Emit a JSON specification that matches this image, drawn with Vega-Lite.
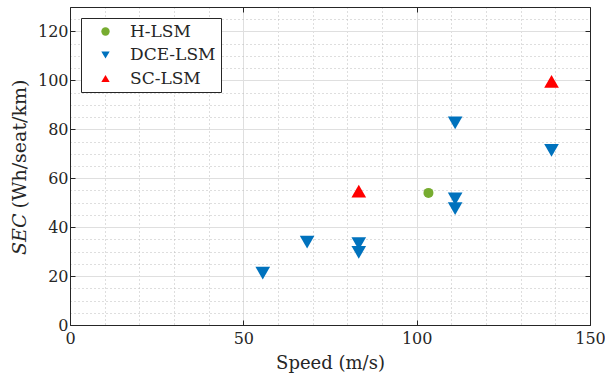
{
  "$schema": "https://vega.github.io/schema/vega-lite/v6.json",
  "width": 520,
  "height": 318,
  "autosize": "none",
  "padding": {"left": 70, "top": 7, "right": 15, "bottom": 52},
  "background": "white",
  "config": {
    "view": {"stroke": null},
    "font": "DejaVu Serif",
    "axis": {
      "labelFont": "DejaVu Serif",
      "titleFont": "DejaVu Serif",
      "labelColor": "#262626",
      "titleColor": "#262626",
      "domainColor": "#262626",
      "tickColor": "#262626",
      "labelFontSize": 16,
      "titleFontSize": 18,
      "titleFontWeight": "normal",
      "labelFlush": false,
      "tickSize": -5
    },
    "legend": {"labelFont": "DejaVu Serif"}
  },
  "data": {
    "values": [
      {"type": "H-LSM", "speed": 103.4, "sec": 54},
      {"type": "DCE-LSM", "speed": 55.6, "sec": 21.2},
      {"type": "DCE-LSM", "speed": 68.4, "sec": 33.9},
      {"type": "DCE-LSM", "speed": 83.3, "sec": 33.3},
      {"type": "DCE-LSM", "speed": 83.3, "sec": 29.7},
      {"type": "DCE-LSM", "speed": 111.1, "sec": 82.6},
      {"type": "DCE-LSM", "speed": 111.1, "sec": 51.6},
      {"type": "DCE-LSM", "speed": 111.1, "sec": 47.6},
      {"type": "DCE-LSM", "speed": 138.9, "sec": 71.4},
      {"type": "SC-LSM", "speed": 83.3, "sec": 54.7},
      {"type": "SC-LSM", "speed": 138.9, "sec": 99.6}
    ]
  },
  "resolve": {"axis": {"x": "independent", "y": "independent"}},
  "layer": [
    {
      "mark": {"type": "point", "opacity": 0},
      "encoding": {
        "x": {"field": "speed", "type": "quantitative", "scale": {"domain": [0, 150], "nice": false, "zero": false},
          "axis": {"orient": "bottom", "values": [10,20,30,40,60,70,80,90,110,120,130,140], "grid": true, "gridDash": [1,3], "gridColor": "#bdbdbd", "gridWidth": 1, "ticks": false, "labels": false, "domain": false, "title": null}},
        "y": {"field": "sec", "type": "quantitative", "scale": {"domain": [0, 130], "nice": false, "zero": false},
          "axis": {"orient": "left", "values": [5,10,15,25,30,35,45,50,55,65,70,75,85,90,95,105,110,115,125], "grid": true, "gridDash": [1,3], "gridColor": "#bdbdbd", "gridWidth": 1, "ticks": false, "labels": false, "domain": false, "title": null}}
      }
    },
    {
      "mark": {"type": "point", "opacity": 0},
      "encoding": {
        "x": {"field": "speed", "type": "quantitative",
          "axis": {"orient": "top", "values": [0,50,100,150], "grid": false, "labels": false, "domain": true, "title": null}},
        "y": {"field": "sec", "type": "quantitative",
          "axis": {"orient": "right", "values": [0,20,40,60,80,100,120], "grid": false, "labels": false, "domain": true, "title": null}}
      }
    },
    {
      "mark": {"type": "point", "opacity": 0},
      "encoding": {
        "x": {"field": "speed", "type": "quantitative", "axis": null},
        "y": {"field": "sec", "type": "quantitative",
          "axis": {"orient": "left", "grid": false, "labels": false, "ticks": false, "domain": false, "title": "SEC", "titleFontSize": 19, "titleFontStyle": "italic", "titleX": -45, "titleY": 206, "titleAlign": "right", "titleBaseline": "alphabetic", "titleAngle": 270}}
      }
    },
    {
      "mark": {"type": "point", "filled": true, "opacity": 1},
      "encoding": {
        "x": {"field": "speed", "type": "quantitative",
          "axis": {"orient": "bottom", "values": [0,50,100,150], "grid": true, "gridColor": "#dfdfdf", "gridWidth": 1, "labelPadding": 10, "title": "Speed (m/s)", "titleY": 43, "titleBaseline": "alphabetic"}},
        "y": {"field": "sec", "type": "quantitative",
          "axis": {"orient": "left", "values": [0,20,40,60,80,100,120], "grid": true, "gridColor": "#dfdfdf", "gridWidth": 1, "labelPadding": 7, "title": "(Wh/seat/km)", "titleFontSize": 19, "titleX": -45, "titleY": 201, "titleAlign": "left", "titleBaseline": "alphabetic", "titleAngle": 270}},
        "color": {"field": "type", "type": "nominal",
          "scale": {"domain": ["H-LSM", "DCE-LSM", "SC-LSM"], "range": ["#77AC30", "#0072BD", "#FF0000"]},
          "legend": {"title": null, "orient": "top-left", "offset": 11, "padding": 5, "strokeColor": "#262626", "fillColor": "white", "symbolOffset": 11, "labelOffset": 16, "labelFont": "DejaVu Serif", "labelFontSize": 17, "labelColor": "#262626", "rowPadding": 5.5, "symbolSize": 70, "symbolOpacity": 1,
            "encode": {"symbols": {"update": {"size": {"value": 70}}}}}},
        "shape": {"field": "type", "type": "nominal",
          "scale": {"domain": ["H-LSM", "DCE-LSM", "SC-LSM"], "range": ["circle", "triangle-down", "triangle-up"]},
          "legend": null},
        "size": {"condition": {"test": "datum.type === 'H-LSM'", "value": 100}, "value": 215}
      }
    }
  ]
}
